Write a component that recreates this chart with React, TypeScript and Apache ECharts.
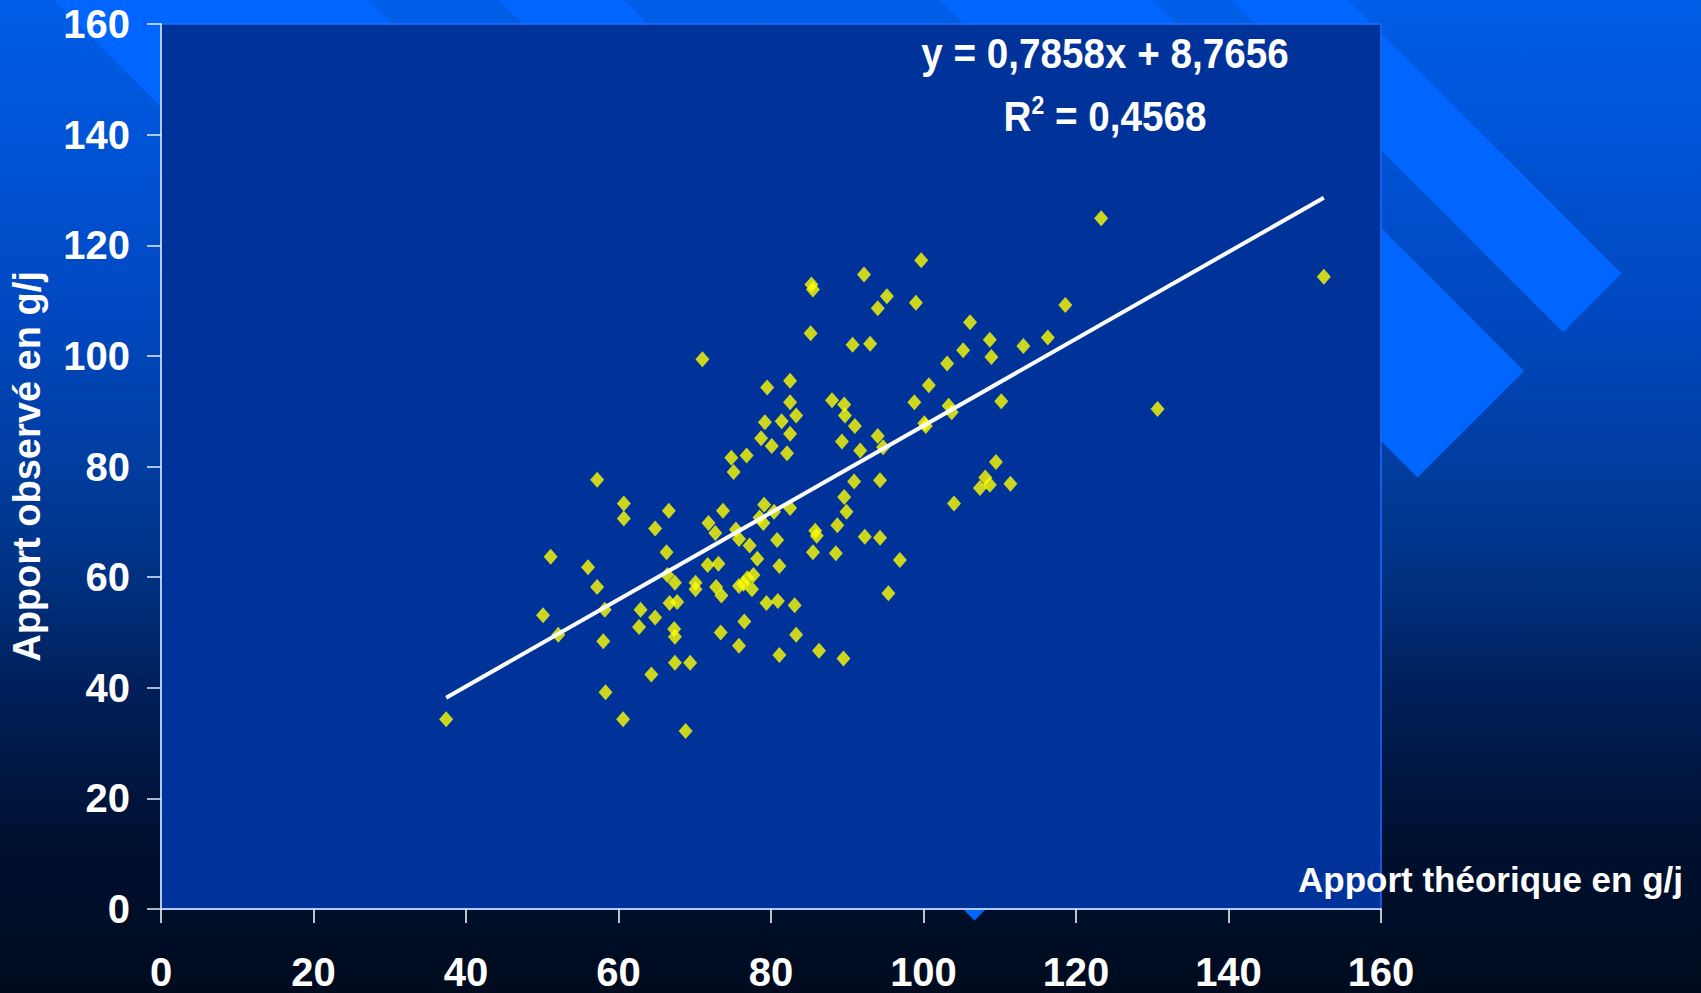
import React, { useEffect, useRef } from "react";
import * as echarts from "echarts";

// ---- Data ----
const apportTheorique: number[] = [
  37.4, 50.1, 51.1, 52.1, 56.0, 57.2, 57.2, 58.2, 58.0, 58.3,
  60.7, 60.7, 60.6, 62.9, 62.7, 64.3, 64.8, 64.8, 66.3, 66.6,
  66.4, 66.7, 67.3, 67.4, 67.4, 67.7, 67.4, 68.8, 69.4, 70.1,
  70.1, 71.0, 71.8, 71.7, 72.7, 73.1, 72.8, 73.5, 73.4, 73.7,
  74.8, 75.1, 75.4, 75.8, 75.8, 75.8, 76.5, 76.8, 76.4, 76.9,
  77.2, 77.7, 77.5, 78.2, 78.5, 78.7, 79.2, 79.5, 79.1, 79.4,
  79.0, 80.1, 80.4, 80.8, 80.9, 81.1, 81.1, 81.4, 82.1, 82.5,
  82.5, 82.5, 82.5, 83.1, 83.3, 83.3, 85.2, 85.3, 85.5, 85.5,
  85.8, 86.0, 86.3, 88.0, 88.5, 88.7, 89.3, 89.6, 89.7, 89.6,
  89.9, 89.5, 90.7, 90.9, 91.0, 91.7, 92.2, 92.3, 93.0, 94.0,
  94.0, 94.3, 94.3, 94.7, 95.2, 95.4, 96.9, 98.8, 99.0, 99.7,
  100.1, 100.3, 100.7, 103.1, 103.3, 103.7, 104.0, 105.2, 106.1, 107.4,
  108.1, 108.7, 108.7, 108.9, 109.5, 110.2, 111.4, 113.1, 116.3, 118.6,
  123.3, 130.7, 152.5,
];
const apportObserve: number[] = [
  34.3, 53.1, 63.7, 49.6, 61.8, 58.2, 77.6, 54.1, 48.4, 39.2,
  73.3, 70.6, 34.3, 54.1, 51.0, 42.4, 68.8, 52.7, 64.5, 72.0,
  60.4, 55.3, 50.6, 49.2, 44.5, 55.5, 59.0, 32.2, 44.5, 59.0,
  57.8, 99.4, 69.8, 62.2, 68.0, 62.4, 58.2, 56.7, 50.0, 72.0,
  81.6, 79.0, 68.6, 66.9, 58.4, 47.6, 52.0, 82.0, 58.8, 59.8,
  65.7, 60.4, 57.8, 63.3, 70.8, 85.1, 88.0, 94.3, 73.1, 55.3,
  69.8, 83.7, 71.8, 66.7, 55.7, 62.0, 45.9, 88.2, 82.4, 95.5,
  91.6, 85.9, 72.5, 54.9, 89.2, 49.6, 104.1, 112.9, 112.0, 64.5,
  68.4, 67.5, 46.7, 92.0, 64.3, 69.4, 84.5, 91.2, 89.2, 74.5,
  71.8, 45.3, 102.0, 77.3, 87.3, 82.9, 114.7, 67.3, 102.2, 108.6,
  85.5, 77.5, 67.1, 83.5, 110.8, 57.1, 63.1, 91.6, 109.6, 117.3,
  87.8, 87.3, 94.7, 98.6, 91.0, 89.8, 73.3, 101.0, 106.1, 76.1,
  78.0, 76.7, 102.9, 99.8, 80.8, 91.8, 76.9, 101.8, 103.3, 109.2,
  124.9, 90.4, 114.3,
];
// Trend line end points
const trendX: number[] = [37.4, 152.5];
const trendY: number[] = [38.2, 128.6];

const AXIS_MIN = 0;
const AXIS_MAX = 160;
const AXIS_STEP = 20;

const xAxisTitle = "Apport théorique en g/j";
const yAxisTitle = "Apport observé en g/j";
const equationText = "y = 0,7858x + 8,7656";
const r2Value = "0,4568";

const FONT = "'Liberation Sans', Arial, Helvetica, sans-serif";

// Decorative background bands (x - y = const stripes at 45°, capped on x + y = 1895)
const bands: number[][][] = [
  [[54, 0], [369, 0], [1132, 763], [974.5, 920.5]],
  [[499, 0], [624, 0], [1259.5, 635.5], [1197, 698]],
  [[940, 0], [1153, 0], [1524, 371], [1417.5, 477.5]],
  [[1231, 0], [1348, 0], [1621.5, 273.5], [1563, 332]],
];

export default function App() {
  const ref = useRef<HTMLDivElement | null>(null);

  useEffect(() => {
    document.body.style.margin = "0";
    if (!ref.current) return;
    const chart = echarts.init(ref.current, null, { renderer: "svg" });

    const points = apportTheorique.map((x, i) => [x, apportObserve[i]]);
    const trend = trendX.map((x, i) => [x, trendY[i]]);

    const option: any = {
      animation: false,
      backgroundColor: {
        type: "linear",
        x: 0,
        y: 0,
        x2: 0,
        y2: 1,
        colorStops: [
          { offset: 0, color: "#005ee8" },
          { offset: 0.16, color: "#0052d4" },
          { offset: 0.32, color: "#0048c0" },
          { offset: 0.48, color: "#003c9c" },
          { offset: 0.56, color: "#003488" },
          { offset: 0.7, color: "#001e58" },
          { offset: 0.85, color: "#001030" },
          { offset: 1, color: "#000b1e" },
        ],
      },
      graphic: [
        ...bands.map((pts) => ({
          type: "polygon",
          z: -10,
          silent: true,
          shape: { points: pts },
          style: { fill: "#0066ff" },
        })),
        {
          type: "text",
          z: 10,
          x: 1105,
          y: 53,
          scaleX: 0.92,
          style: {
            text: equationText,
            fill: "#ffffff",
            font: `bold 42px ${FONT}`,
            textAlign: "center",
            textVerticalAlign: "middle",
          },
        },
        {
          type: "text",
          z: 10,
          x: 1105,
          y: 116,
          scaleX: 0.92,
          style: {
            text: `{a|R}{s|2}{a| = ${r2Value}}`,
            fill: "#ffffff",
            textAlign: "center",
            textVerticalAlign: "middle",
            rich: {
              a: {
                fontFamily: FONT,
                fontWeight: "bold",
                fontSize: 42,
                lineHeight: 44,
                color: "#ffffff",
              },
              s: {
                fontFamily: FONT,
                fontWeight: "bold",
                fontSize: 25,
                lineHeight: 44,
                color: "#ffffff",
                padding: [0, 0, 22, 0],
              },
            },
          },
        },
      ],
      grid: {
        left: 160.5,
        top: 24,
        right: 320,
        bottom: 84,
        show: true,
        backgroundColor: "#003399",
        borderColor: "#1f6bff",
        borderWidth: 1.5,
      },
      xAxis: {
        type: "value",
        min: AXIS_MIN,
        max: AXIS_MAX,
        interval: AXIS_STEP,
        name: xAxisTitle,
        nameLocation: "end",
        nameGap: 302,
        nameTextStyle: {
          color: "#ffffff",
          fontFamily: FONT,
          fontWeight: "bold",
          fontSize: 35,
          align: "right",
          verticalAlign: "bottom",
          lineHeight: 35,
          padding: [0, 0, 12, 0],
        },
        axisLine: { show: true, lineStyle: { color: "#a9cbff", width: 2 } },
        axisTick: { show: true, length: 14, lineStyle: { color: "#ffffff", width: 1.5 } },
        axisLabel: {
          color: "#ffffff",
          fontFamily: FONT,
          fontWeight: "bold",
          fontSize: 40,
          lineHeight: 30,
          margin: 48,
        },
        splitLine: { show: false },
      },
      yAxis: {
        type: "value",
        min: AXIS_MIN,
        max: AXIS_MAX,
        interval: AXIS_STEP,
        name: yAxisTitle,
        nameLocation: "middle",
        nameGap: 115,
        nameTextStyle: {
          color: "#ffffff",
          fontFamily: FONT,
          fontWeight: "bold",
          fontSize: 38,
        },
        axisLine: { show: true, lineStyle: { color: "#e8eeff", width: 1.5 } },
        axisTick: { show: true, length: 14, lineStyle: { color: "#e8eeff", width: 1.5 } },
        axisLabel: {
          color: "#ffffff",
          fontFamily: FONT,
          fontWeight: "bold",
          fontSize: 40,
          margin: 31,
        },
        splitLine: { show: false },
      },
      series: [
        {
          type: "scatter",
          name: "Apport",
          data: points,
          symbol: "diamond",
          symbolSize: [14, 16],
          itemStyle: { color: "#ffff00" },
          z: 2,
        },
        {
          type: "line",
          name: "Tendance",
          data: trend,
          showSymbol: false,
          symbol: "none",
          lineStyle: { color: "#ffffff", width: 4 },
          z: 3,
        },
      ],
    };

    chart.setOption(option);
    return () => {
      chart.dispose();
    };
  }, []);

  return <div ref={ref} style={{ width: 1701, height: 993 }} />;
}
